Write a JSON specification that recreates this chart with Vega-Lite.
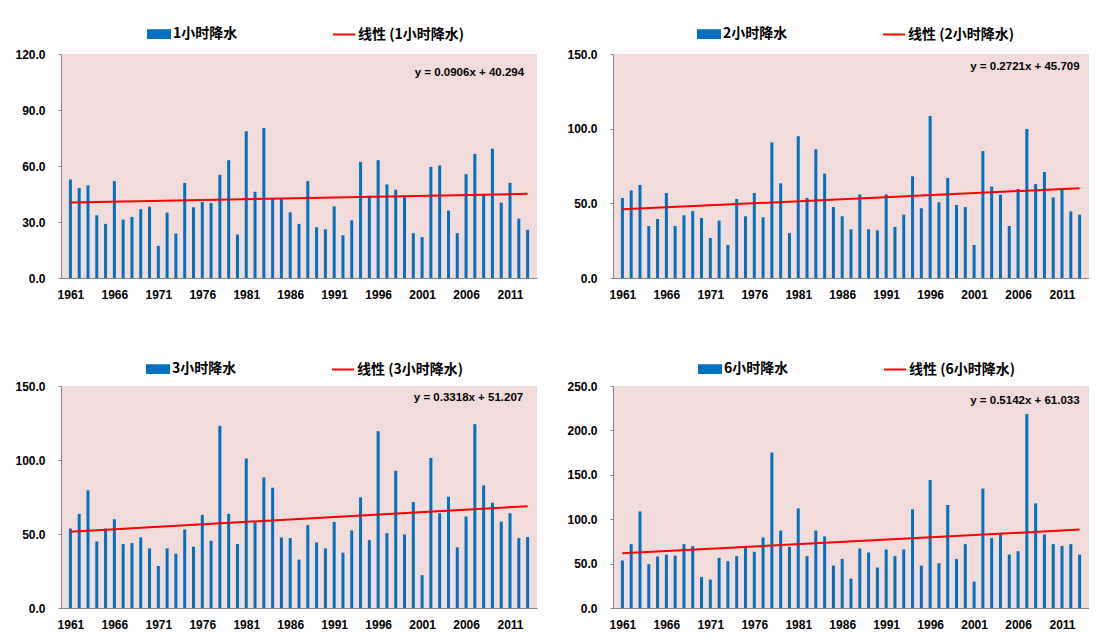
{
  "$schema": "https://vega.github.io/schema/vega-lite/v6.json",
  "background": "white",
  "padding": {"left": 14, "top": 22, "right": 0, "bottom": 0},
  "datasets": {
    "p1": [
      {"year":1961,"v":52.8},{"year":1962,"v":48.2},{"year":1963,"v":49.6},{"year":1964,"v":33.6},{"year":1965,"v":29.0},{"year":1966,"v":51.9},{"year":1967,"v":31.3},{"year":1968,"v":32.7},{"year":1969,"v":36.8},{"year":1970,"v":38.2},
      {"year":1971,"v":17.2},{"year":1972,"v":35.0},{"year":1973,"v":23.8},{"year":1974,"v":51.0},{"year":1975,"v":37.9},{"year":1976,"v":40.7},{"year":1977,"v":40.2},{"year":1978,"v":55.3},{"year":1979,"v":63.1},{"year":1980,"v":23.3},
      {"year":1981,"v":78.6},{"year":1982,"v":46.2},{"year":1983,"v":80.4},{"year":1984,"v":42.3},{"year":1985,"v":42.3},{"year":1986,"v":35.2},{"year":1987,"v":29.0},{"year":1988,"v":51.9},{"year":1989,"v":27.2},{"year":1990,"v":26.1},
      {"year":1991,"v":38.4},{"year":1992,"v":22.9},{"year":1993,"v":30.9},{"year":1994,"v":62.2},{"year":1995,"v":44.1},{"year":1996,"v":63.1},{"year":1997,"v":50.1},{"year":1998,"v":47.3},{"year":1999,"v":43.4},{"year":2000,"v":24.0},
      {"year":2001,"v":21.9},{"year":2002,"v":59.6},{"year":2003,"v":60.3},{"year":2004,"v":36.1},{"year":2005,"v":24.0},{"year":2006,"v":55.6},{"year":2007,"v":66.5},{"year":2008,"v":44.4},{"year":2009,"v":69.3},{"year":2010,"v":40.4},
      {"year":2011,"v":51.0},{"year":2012,"v":31.8},{"year":2013,"v":25.8}
    ],
    "p2": [
      {"year":1961,"v":53.6},{"year":1962,"v":58.7},{"year":1963,"v":62.3},{"year":1964,"v":34.8},{"year":1965,"v":39.5},{"year":1966,"v":56.9},{"year":1967,"v":34.8},{"year":1968,"v":42.0},{"year":1969,"v":44.9},{"year":1970,"v":40.2},
      {"year":1971,"v":26.8},{"year":1972,"v":38.4},{"year":1973,"v":22.1},{"year":1974,"v":52.9},{"year":1975,"v":41.3},{"year":1976,"v":56.9},{"year":1977,"v":40.6},{"year":1978,"v":90.8},{"year":1979,"v":63.4},{"year":1980,"v":30.1},
      {"year":1981,"v":94.9},{"year":1982,"v":53.6},{"year":1983,"v":86.2},{"year":1984,"v":69.9},{"year":1985,"v":47.5},{"year":1986,"v":41.3},{"year":1987,"v":32.6},{"year":1988,"v":56.0},{"year":1989,"v":32.6},{"year":1990,"v":31.9},
      {"year":1991,"v":56.0},{"year":1992,"v":34.2},{"year":1993,"v":42.4},{"year":1994,"v":68.1},{"year":1995,"v":46.7},{"year":1996,"v":108.5},{"year":1997,"v":50.7},{"year":1998,"v":67.0},{"year":1999,"v":48.9},{"year":2000,"v":47.5},
      {"year":2001,"v":22.1},{"year":2002,"v":85.0},{"year":2003,"v":61.2},{"year":2004,"v":55.8},{"year":2005,"v":34.8},{"year":2006,"v":59.6},{"year":2007,"v":99.8},{"year":2008,"v":62.9},{"year":2009,"v":71.0},{"year":2010,"v":54.0},
      {"year":2011,"v":59.2},{"year":2012,"v":44.6},{"year":2013,"v":42.4}
    ],
    "p3": [
      {"year":1961,"v":53.7},{"year":1962,"v":63.6},{"year":1963,"v":79.5},{"year":1964,"v":45.0},{"year":1965,"v":53.7},{"year":1966,"v":60.0},{"year":1967,"v":43.2},{"year":1968,"v":43.9},{"year":1969,"v":47.7},{"year":1970,"v":40.3},
      {"year":1971,"v":28.4},{"year":1972,"v":40.3},{"year":1973,"v":36.7},{"year":1974,"v":53.1},{"year":1975,"v":41.4},{"year":1976,"v":62.9},{"year":1977,"v":45.4},{"year":1978,"v":123.1},{"year":1979,"v":63.6},{"year":1980,"v":43.2},
      {"year":1981,"v":101.0},{"year":1982,"v":58.0},{"year":1983,"v":88.2},{"year":1984,"v":81.3},{"year":1985,"v":47.7},{"year":1986,"v":47.2},{"year":1987,"v":32.7},{"year":1988,"v":56.0},{"year":1989,"v":44.3},{"year":1990,"v":40.3},
      {"year":1991,"v":58.2},{"year":1992,"v":37.4},{"year":1993,"v":52.4},{"year":1994,"v":74.8},{"year":1995,"v":45.9},{"year":1996,"v":119.5},{"year":1997,"v":50.6},{"year":1998,"v":92.7},{"year":1999,"v":49.7},{"year":2000,"v":71.6},
      {"year":2001,"v":22.2},{"year":2002,"v":101.4},{"year":2003,"v":64.0},{"year":2004,"v":75.2},{"year":2005,"v":41.0},{"year":2006,"v":61.8},{"year":2007,"v":124.2},{"year":2008,"v":82.8},{"year":2009,"v":71.2},{"year":2010,"v":58.4},
      {"year":2011,"v":64.0},{"year":2012,"v":47.2},{"year":2013,"v":47.9}
    ],
    "p4": [
      {"year":1961,"v":53.5},{"year":1962,"v":71.9},{"year":1963,"v":108.8},{"year":1964,"v":49.3},{"year":1965,"v":58.0},{"year":1966,"v":60.2},{"year":1967,"v":59.1},{"year":1968,"v":71.9},{"year":1969,"v":69.7},{"year":1970,"v":35.0},
      {"year":1971,"v":32.0},{"year":1972,"v":56.5},{"year":1973,"v":52.7},{"year":1974,"v":58.4},{"year":1975,"v":68.1},{"year":1976,"v":63.3},{"year":1977,"v":79.4},{"year":1978,"v":175.1},{"year":1979,"v":87.3},{"year":1980,"v":68.9},
      {"year":1981,"v":112.2},{"year":1982,"v":58.4},{"year":1983,"v":87.3},{"year":1984,"v":80.6},{"year":1985,"v":47.8},{"year":1986,"v":55.3},{"year":1987,"v":33.1},{"year":1988,"v":67.0},{"year":1989,"v":62.5},{"year":1990,"v":45.6},
      {"year":1991,"v":65.9},{"year":1992,"v":58.4},{"year":1993,"v":65.9},{"year":1994,"v":111.1},{"year":1995,"v":47.8},{"year":1996,"v":144.2},{"year":1997,"v":50.5},{"year":1998,"v":116.0},{"year":1999,"v":55.3},{"year":2000,"v":71.9},
      {"year":2001,"v":29.7},{"year":2002,"v":134.4},{"year":2003,"v":78.7},{"year":2004,"v":83.2},{"year":2005,"v":60.2},{"year":2006,"v":64.0},{"year":2007,"v":218.4},{"year":2008,"v":117.8},{"year":2009,"v":82.8},{"year":2010,"v":71.9},
      {"year":2011,"v":70.0},{"year":2012,"v":71.9},{"year":2013,"v":60.2}
    ],
    "t1": [{"year":1961,"v":40.385},{"year":2013,"v":45.096}],
    "t2": [{"year":1961,"v":45.981},{"year":2013,"v":60.130}],
    "t3": [{"year":1961,"v":51.539},{"year":2013,"v":68.792}],
    "t4": [{"year":1961,"v":61.547},{"year":2013,"v":88.286}]
  },
  "columns": 2,
  "spacing": {"row": 57, "column": 29},
  "resolve": {"scale": {"x": "independent", "y": "independent", "color": "independent"}, "legend": {"color": "independent"}},
  "concat": [
    {
      "width": 476, "height": 224,
      "layer": [
        {"data": {"name": "p1"}, "mark": {"type": "bar", "size": 3},
         "encoding": {
           "x": {"field": "year", "type": "quantitative", "scale": {"domain": [1960.5, 2013.5], "nice": false, "zero": false},
                 "axis": {"values": [1961,1966,1971,1976,1981,1986,1991,1996,2001,2006,2011], "format": "d", "ticks": false, "labelPadding": 11, "labelFlush": false}},
           "y": {"field": "v", "type": "quantitative", "scale": {"domain": [0, 120], "nice": false},
                 "axis": {"values": [0,30,60,90,120], "format": ".1f", "tickSize": 3, "labelPadding": 13}},
           "color": {"datum": "1小时降水", "type": "nominal",
                     "scale": {"domain": ["1小时降水", "线性 (1小时降水)"], "range": ["#0070C0", "#FF0000"]},
                     "legend": {"orient": "none", "legendX": 86, "legendY": -32, "direction": "horizontal", "title": null,
                                "encode": {"symbols": {"update": {
                                  "shape": {"signal": "datum.index === 0 ? 'M-1,-0.35L1,-0.35L1,0.35L-1,0.35Z' : 'stroke'"},
                                  "fill": {"signal": "datum.index === 0 ? '#0070C0' : 'transparent'"},
                                  "stroke": {"signal": "datum.index === 0 ? 'transparent' : '#FF0000'"},
                                  "strokeWidth": {"value": 2}, "opacity": {"value": 1}}}}}}
         }},
        {"data": {"name": "t1"}, "mark": {"type": "line", "strokeWidth": 2},
         "encoding": {"x": {"field": "year", "type": "quantitative"}, "y": {"field": "v", "type": "quantitative"},
                      "color": {"datum": "线性 (1小时降水)", "type": "nominal"}}},
        {"data": {"values": [{"eq": "y = 0.0906x + 40.294"}]},
         "mark": {"type": "text", "align": "right", "baseline": "middle", "font": "Liberation Sans", "fontWeight": "bold", "fontSize": 11.5, "color": "#000000"},
         "encoding": {"x": {"datum": 2012.6, "type": "quantitative"}, "y": {"datum": 110, "type": "quantitative"}, "text": {"field": "eq"}}}
      ]
    },
    {
      "width": 476, "height": 224,
      "layer": [
        {"data": {"name": "p2"}, "mark": {"type": "bar", "size": 3},
         "encoding": {
           "x": {"field": "year", "type": "quantitative", "scale": {"domain": [1960.5, 2013.5], "nice": false, "zero": false},
                 "axis": {"values": [1961,1966,1971,1976,1981,1986,1991,1996,2001,2006,2011], "format": "d", "ticks": false, "labelPadding": 11, "labelFlush": false}},
           "y": {"field": "v", "type": "quantitative", "scale": {"domain": [0, 150], "nice": false},
                 "axis": {"values": [0,50,100,150], "format": ".1f", "tickSize": 3, "labelPadding": 13}},
           "color": {"datum": "2小时降水", "type": "nominal",
                     "scale": {"domain": ["2小时降水", "线性 (2小时降水)"], "range": ["#0070C0", "#FF0000"]},
                     "legend": {"orient": "none", "legendX": 84, "legendY": -32, "direction": "horizontal", "title": null,
                                "encode": {"symbols": {"update": {
                                  "shape": {"signal": "datum.index === 0 ? 'M-1,-0.35L1,-0.35L1,0.35L-1,0.35Z' : 'stroke'"},
                                  "fill": {"signal": "datum.index === 0 ? '#0070C0' : 'transparent'"},
                                  "stroke": {"signal": "datum.index === 0 ? 'transparent' : '#FF0000'"},
                                  "strokeWidth": {"value": 2}, "opacity": {"value": 1}}}}}}
         }},
        {"data": {"name": "t2"}, "mark": {"type": "line", "strokeWidth": 2},
         "encoding": {"x": {"field": "year", "type": "quantitative"}, "y": {"field": "v", "type": "quantitative"},
                      "color": {"datum": "线性 (2小时降水)", "type": "nominal"}}},
        {"data": {"values": [{"eq": "y = 0.2721x + 45.709"}]},
         "mark": {"type": "text", "align": "right", "baseline": "middle", "font": "Liberation Sans", "fontWeight": "bold", "fontSize": 11.5, "color": "#000000"},
         "encoding": {"x": {"datum": 2013, "type": "quantitative"}, "y": {"datum": 141, "type": "quantitative"}, "text": {"field": "eq"}}}
      ]
    },
    {
      "width": 476, "height": 222,
      "layer": [
        {"data": {"name": "p3"}, "mark": {"type": "bar", "size": 3},
         "encoding": {
           "x": {"field": "year", "type": "quantitative", "scale": {"domain": [1960.5, 2013.5], "nice": false, "zero": false},
                 "axis": {"values": [1961,1966,1971,1976,1981,1986,1991,1996,2001,2006,2011], "format": "d", "ticks": false, "labelPadding": 11, "labelFlush": false}},
           "y": {"field": "v", "type": "quantitative", "scale": {"domain": [0, 150], "nice": false},
                 "axis": {"values": [0,50,100,150], "format": ".1f", "tickSize": 3, "labelPadding": 13}},
           "color": {"datum": "3小时降水", "type": "nominal",
                     "scale": {"domain": ["3小时降水", "线性 (3小时降水)"], "range": ["#0070C0", "#FF0000"]},
                     "legend": {"orient": "none", "legendX": 85, "legendY": -29, "direction": "horizontal", "title": null,
                                "encode": {"symbols": {"update": {
                                  "shape": {"signal": "datum.index === 0 ? 'M-1,-0.35L1,-0.35L1,0.35L-1,0.35Z' : 'stroke'"},
                                  "fill": {"signal": "datum.index === 0 ? '#0070C0' : 'transparent'"},
                                  "stroke": {"signal": "datum.index === 0 ? 'transparent' : '#FF0000'"},
                                  "strokeWidth": {"value": 2}, "opacity": {"value": 1}}}}}}
         }},
        {"data": {"name": "t3"}, "mark": {"type": "line", "strokeWidth": 2},
         "encoding": {"x": {"field": "year", "type": "quantitative"}, "y": {"field": "v", "type": "quantitative"},
                      "color": {"datum": "线性 (3小时降水)", "type": "nominal"}}},
        {"data": {"values": [{"eq": "y = 0.3318x + 51.207"}]},
         "mark": {"type": "text", "align": "right", "baseline": "middle", "font": "Liberation Sans", "fontWeight": "bold", "fontSize": 11.5, "color": "#000000"},
         "encoding": {"x": {"datum": 2012.5, "type": "quantitative"}, "y": {"datum": 142, "type": "quantitative"}, "text": {"field": "eq"}}}
      ]
    },
    {
      "width": 476, "height": 222,
      "layer": [
        {"data": {"name": "p4"}, "mark": {"type": "bar", "size": 3},
         "encoding": {
           "x": {"field": "year", "type": "quantitative", "scale": {"domain": [1960.5, 2013.5], "nice": false, "zero": false},
                 "axis": {"values": [1961,1966,1971,1976,1981,1986,1991,1996,2001,2006,2011], "format": "d", "ticks": false, "labelPadding": 11, "labelFlush": false}},
           "y": {"field": "v", "type": "quantitative", "scale": {"domain": [0, 250], "nice": false},
                 "axis": {"values": [0,50,100,150,200,250], "format": ".1f", "tickSize": 3, "labelPadding": 13}},
           "color": {"datum": "6小时降水", "type": "nominal",
                     "scale": {"domain": ["6小时降水", "线性 (6小时降水)"], "range": ["#0070C0", "#FF0000"]},
                     "legend": {"orient": "none", "legendX": 85, "legendY": -29, "direction": "horizontal", "title": null,
                                "encode": {"symbols": {"update": {
                                  "shape": {"signal": "datum.index === 0 ? 'M-1,-0.35L1,-0.35L1,0.35L-1,0.35Z' : 'stroke'"},
                                  "fill": {"signal": "datum.index === 0 ? '#0070C0' : 'transparent'"},
                                  "stroke": {"signal": "datum.index === 0 ? 'transparent' : '#FF0000'"},
                                  "strokeWidth": {"value": 2}, "opacity": {"value": 1}}}}}}
         }},
        {"data": {"name": "t4"}, "mark": {"type": "line", "strokeWidth": 2},
         "encoding": {"x": {"field": "year", "type": "quantitative"}, "y": {"field": "v", "type": "quantitative"},
                      "color": {"datum": "线性 (6小时降水)", "type": "nominal"}}},
        {"data": {"values": [{"eq": "y = 0.5142x + 61.033"}]},
         "mark": {"type": "text", "align": "right", "baseline": "middle", "font": "Liberation Sans", "fontWeight": "bold", "fontSize": 11.5, "color": "#000000"},
         "encoding": {"x": {"datum": 2013, "type": "quantitative"}, "y": {"datum": 233, "type": "quantitative"}, "text": {"field": "eq"}}}
      ]
    }
  ],
  "config": {
    "view": {"fill": "#F2DCDB", "stroke": null},
    "axis": {"labelFont": "Liberation Sans", "labelFontWeight": "bold", "labelFontSize": 12, "labelColor": "#000000",
             "domainColor": "#868686", "tickColor": "#868686", "grid": false, "title": null},
    "legend": {"symbolSize": 484, "columnPadding": 91, "labelOffset": 2, "labelFont": "Noto Sans CJK SC", "labelFontSize": 14,
               "labelFontWeight": "bold", "labelColor": "#000000", "labelLimit": 300, "symbolStrokeWidth": 2}
  }
}
